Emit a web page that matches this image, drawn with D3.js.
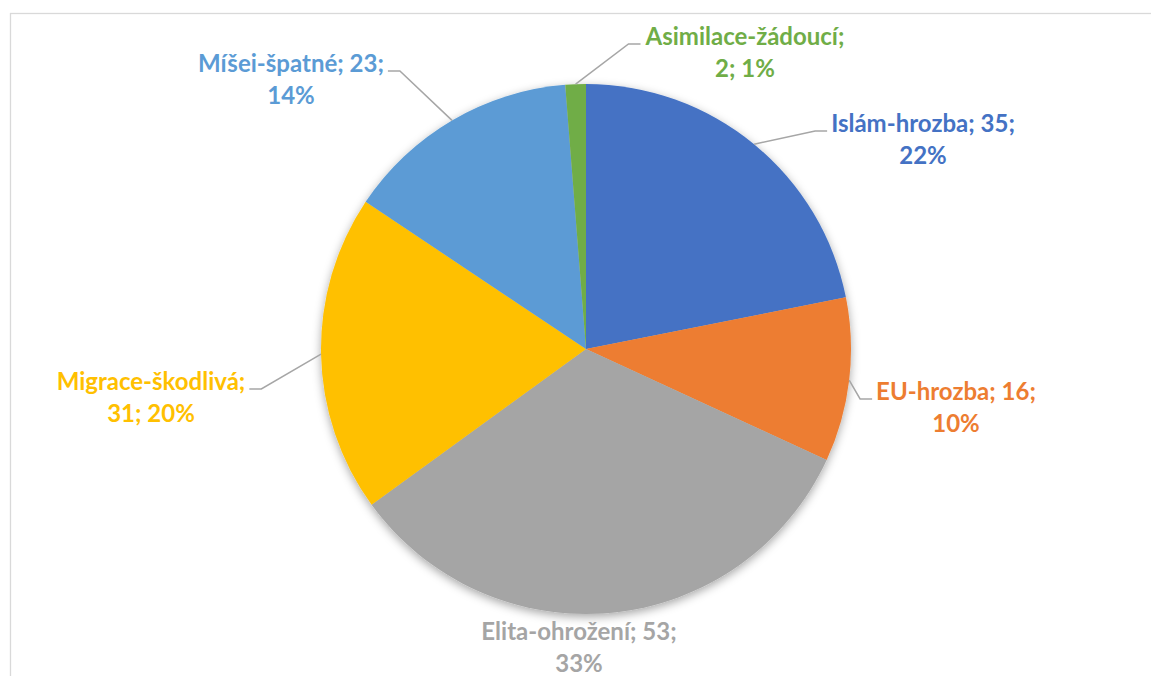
<!DOCTYPE html>
<html>
<head>
<meta charset="utf-8">
<script src="https://cdn.jsdelivr.net/npm/d3@7"></script>
<style>
  html, body { margin: 0; padding: 0; background: #fff; }
  svg { display: block; }
</style>
</head>
<body>
<svg id="chart" width="1151" height="676"></svg>
<script>
// ---- data ----
const categories = ["Islám-hrozba", "EU-hrozba", "Elita-ohrožení", "Migrace-škodlivá", "Míšei-špatné", "Asimilace-žádoucí"];
const values = [35, 16, 53, 31, 23, 2];
const percentLabels = ["22%", "10%", "33%", "20%", "14%", "1%"];
const colors = ["#4472C4", "#ED7D31", "#A5A5A5", "#FFC000", "#5B9BD5", "#70AD47"];
// how each label wraps: number of parts ("category", "value", "percent") on line 1
const line1Parts = [2, 2, 2, 1, 2, 1];

// ---- layout ----
const W = 1151, H = 676;
const cx = 586, cy = 349, R = 265;
const fontFamily = "Lato, 'Open Sans', sans-serif";
const fontSize = 24;
const lineGap = 32;
// label anchor: center x, first baseline y, leader side (null = no leader)
const labelLayout = [
  { x: 923, y: 132, side: "right" },
  { x: 956, y: 400, side: "right" },
  { x: 579, y: 640, side: null },
  { x: 151, y: 390, side: "left" },
  { x: 291, y: 72, side: "left" },
  { x: 745, y: 45, side: "right" }
];

const svg = d3.select("#chart");

// frame
svg.append("rect")
  .attr("x", 10.5).attr("y", 13.5)
  .attr("width", 1200).attr("height", 700)
  .attr("fill", "none").attr("stroke", "#d9d9d9").attr("stroke-width", 1.3);

const defs = svg.append("defs");
const filt = defs.append("filter").attr("id", "shadow")
  .attr("x", "-20%").attr("y", "-20%").attr("width", "140%").attr("height", "140%");
filt.append("feDropShadow")
  .attr("dx", 0).attr("dy", 3).attr("stdDeviation", 5)
  .attr("flood-color", "#000").attr("flood-opacity", 0.35);

const pie = d3.pie().sort(null).value(d => d)
  .startAngle(0).endAngle(2 * Math.PI);
const arcs = pie(values);
const arc = d3.arc().innerRadius(0).outerRadius(R);

const g = svg.append("g").attr("transform", `translate(${cx},${cy})`);
g.append("g").attr("filter", "url(#shadow)")
  .selectAll("path").data(arcs).join("path")
  .attr("d", arc)
  .attr("fill", (d, i) => colors[i]);

// labels
const labelsG = svg.append("g");
arcs.forEach((d, i) => {
  const L = labelLayout[i];
  const parts = [categories[i], String(values[i]), percentLabels[i]];
  const n = line1Parts[i];
  const lines = [
    parts.slice(0, n).join("; ") + ";",
    parts.slice(n).join("; ")
  ];
  const t = labelsG.append("text")
    .attr("text-anchor", "middle")
    .attr("font-family", fontFamily)
    .attr("font-weight", "bold")
    .attr("font-size", fontSize)
    .attr("fill", colors[i]);
  lines.forEach((line, k) => {
    t.append("tspan").attr("x", L.x).attr("y", L.y + k * lineGap).text(line);
  });
  if (L.side) {
    const first = t.select("tspan").node();
    const bb = first.getBBox();
    const mid = (d.startAngle + d.endAngle) / 2;
    const sx = cx + R * Math.sin(mid), sy = cy - R * Math.cos(mid);
    let ex, elx;
    const ly = L.y - 1;
    if (L.side === "left") { ex = bb.x + bb.width + 4; elx = ex + 12; }
    else { ex = bb.x - 4; elx = ex - 12; }
    labelsG.append("polyline")
      .attr("points", [[sx, sy], [elx, ly], [ex, ly]].map(p => p.join(",")).join(" "))
      .attr("fill", "none").attr("stroke", "#a6a6a6").attr("stroke-width", 1.5);
  }
});
</script>
</body>
</html>
